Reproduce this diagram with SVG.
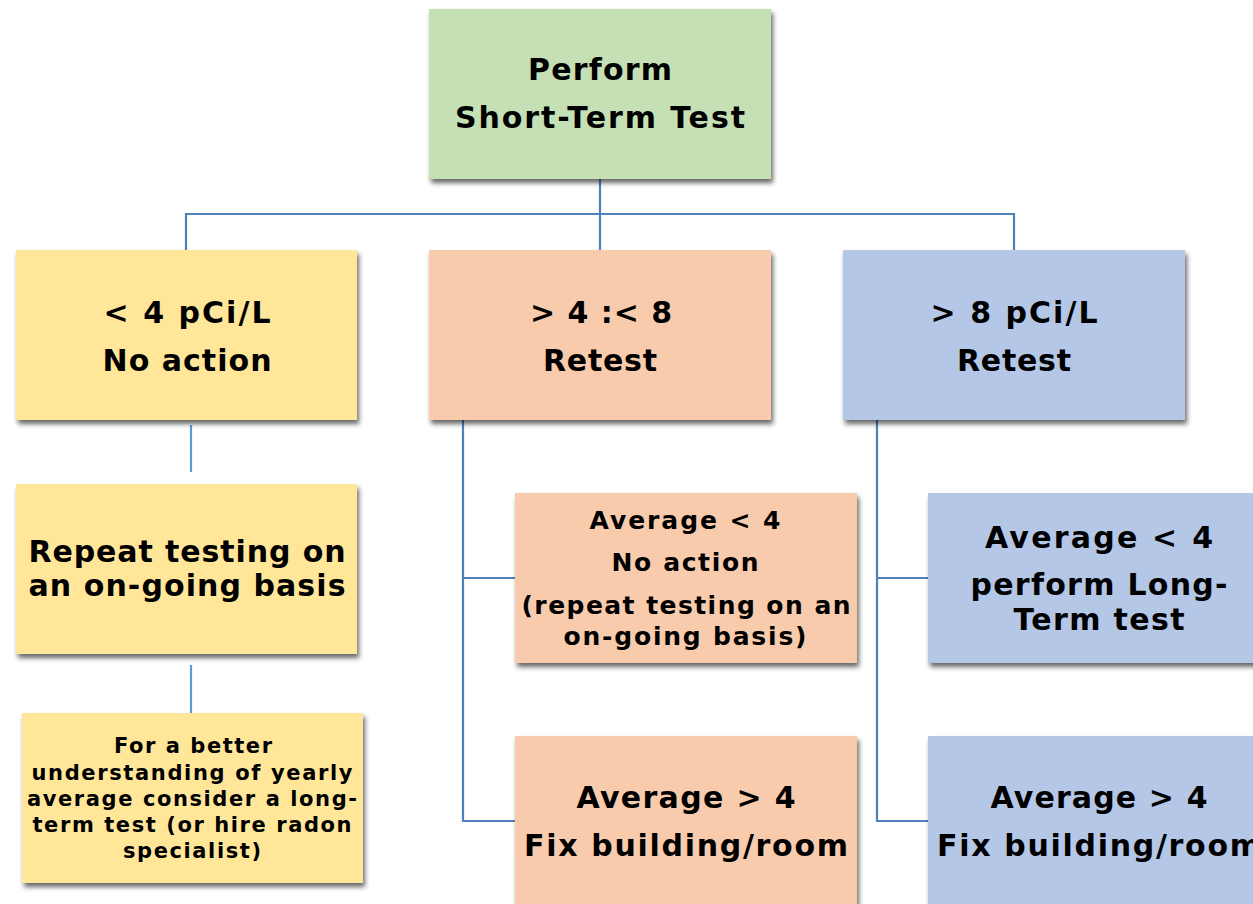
<svg xmlns="http://www.w3.org/2000/svg" width="1253" height="904" viewBox="0 0 1253 904">
<defs>
<filter id="sh" x="-10%" y="-10%" width="125%" height="130%">
<feGaussianBlur in="SourceAlpha" stdDeviation="2.5"/>
<feOffset dx="2" dy="4" result="b"/>
<feComponentTransfer><feFuncA type="linear" slope="0.6"/></feComponentTransfer>
<feMerge><feMergeNode/><feMergeNode in="SourceGraphic"/></feMerge>
</filter>
</defs>
<style>
.box{filter:url(#sh)}
.g{fill:#c5e0b4}.y{fill:#ffe699}.o{fill:#f8cbad}.b{fill:#b4c7e7}
text{font-family:"DejaVu Sans",Verdana,sans-serif;font-weight:bold;fill:#000;text-anchor:middle}
.t30{font-size:30px}.t24{font-size:25px}.t21{font-size:21px}
.c{fill:none;stroke:#4f81bd;stroke-width:2.2}
.c2{fill:none;stroke:#5b9bd5;stroke-width:2.2}
</style>
<rect width="1253" height="904" fill="#fff"/>
<g id="connectors">
<path class="c" d="M600 179V250M186 214H1014M186 213V250M1014 213V250"/>
<path class="c2" d="M191 425V472M191 665V713"/>
<path class="c" d="M463 420V821H515M463 578H515"/>
<path class="c" d="M877 420V821H928M877 578H928"/>
</g>
<g id="n-top"><rect class="box g" x="429" y="9" width="342" height="170"/>
<text class="t30" x="600" y="80" textLength="144" lengthAdjust="spacing">Perform</text><text class="t30" x="600" y="128" textLength="290" lengthAdjust="spacing">Short-Term Test</text></g>
<g id="n-low"><rect class="box y" x="16" y="250" width="341" height="170"/>
<text class="t30" x="187" y="323" textLength="167" lengthAdjust="spacing">&lt; 4 pCi/L</text><text class="t30" x="187" y="371" textLength="169" lengthAdjust="spacing">No action</text></g>
<g id="n-mid"><rect class="box o" x="429" y="250" width="342" height="170"/>
<text class="t30" x="601" y="323" textLength="142" lengthAdjust="spacing">&gt; 4 :&lt; 8</text><text class="t30" x="600" y="371" textLength="114" lengthAdjust="spacing">Retest</text></g>
<g id="n-high"><rect class="box b" x="843" y="250" width="342" height="170"/>
<text class="t30" x="1014" y="323" textLength="167" lengthAdjust="spacing">&gt; 8 pCi/L</text><text class="t30" x="1014" y="371" textLength="114" lengthAdjust="spacing">Retest</text></g>
<g id="n-repeat"><rect class="box y" x="16" y="484" width="341" height="170"/>
<text class="t30" x="187" y="562" textLength="317" lengthAdjust="spacing">Repeat testing on</text><text class="t30" x="187" y="596" textLength="317" lengthAdjust="spacing">an on-going basis</text></g>
<g id="n-better"><rect class="box y" x="22" y="713" width="341" height="170"/>
<text class="t21" x="193" y="753" textLength="158" lengthAdjust="spacing">For a better</text>
<text class="t21" x="192" y="780" textLength="321" lengthAdjust="spacing">understanding of yearly</text>
<text class="t21" x="192" y="806" textLength="330" lengthAdjust="spacing">average consider a long-</text>
<text class="t21" x="192" y="832" textLength="319" lengthAdjust="spacing">term test (or hire radon</text>
<text class="t21" x="192" y="858" textLength="138" lengthAdjust="spacing">specialist)</text></g>
<g id="n-mid-low"><rect class="box o" x="515" y="493" width="342" height="170"/>
<text class="t24" x="685" y="529" textLength="191" lengthAdjust="spacing">Average &lt; 4</text>
<text class="t24" x="685" y="571" textLength="147" lengthAdjust="spacing">No action</text>
<text class="t24" x="686" y="614" textLength="329" lengthAdjust="spacing">(repeat testing on an</text>
<text class="t24" x="685" y="645" textLength="243" lengthAdjust="spacing">on-going basis)</text></g>
<g id="n-mid-high"><rect class="box o" x="515" y="736" width="342" height="180"/>
<text class="t30" x="686" y="808" textLength="219" lengthAdjust="spacing">Average &gt; 4</text>
<text class="t30" x="686" y="856" textLength="324" lengthAdjust="spacing">Fix building/room</text></g>
<g id="n-high-low"><rect class="box b" x="928" y="493" width="342" height="170"/>
<text class="t30" x="1099" y="548" textLength="228" lengthAdjust="spacing">Average  &lt; 4</text>
<text class="t30" x="1099" y="595" textLength="257" lengthAdjust="spacing">perform Long-</text>
<text class="t30" x="1099" y="630" textLength="171" lengthAdjust="spacing">Term test</text></g>
<g id="n-high-high"><rect class="box b" x="928" y="736" width="342" height="180"/>
<text class="t30" x="1099" y="808" textLength="217" lengthAdjust="spacing">Average &gt; 4</text>
<text class="t30" x="1099" y="856" textLength="324" lengthAdjust="spacing">Fix building/room</text></g>
</svg>
